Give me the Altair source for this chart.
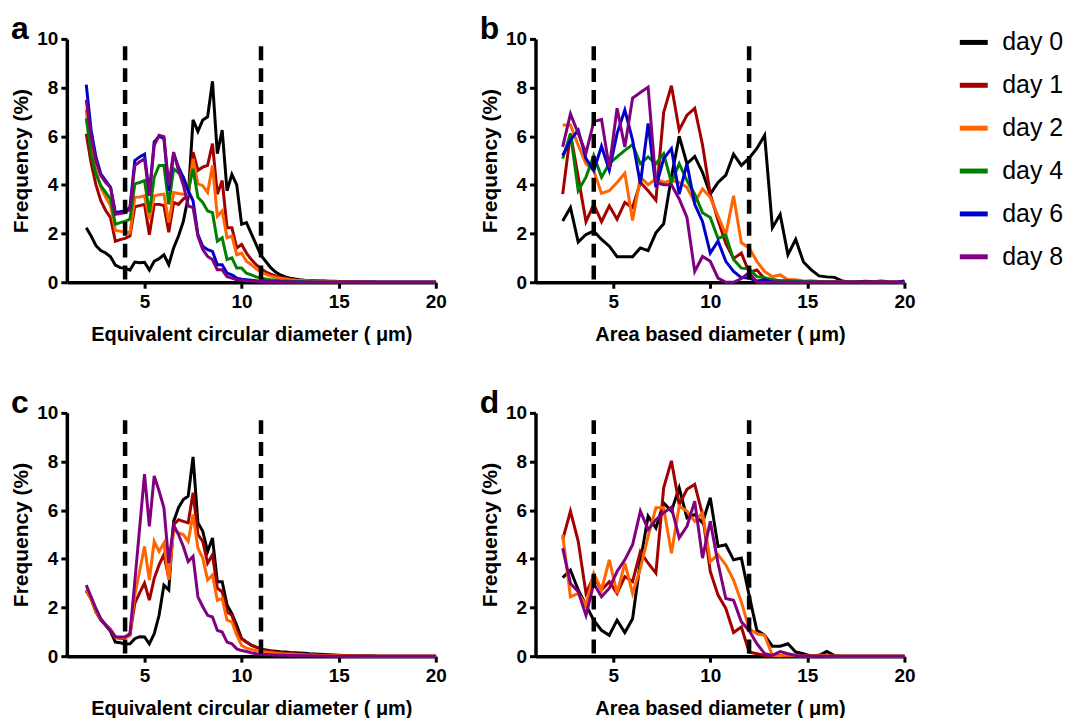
import altair as alt
import pandas as pd

DAYS = ["day 0", "day 1", "day 2", "day 4", "day 6", "day 8"]
COLORS = ["#000000", "#A30000", "#FF6600", "#008000", "#0000CC", "#800080"]

XA = [2.0, 2.25, 2.5, 2.75, 3.0, 3.25, 3.5, 3.75, 4.0, 4.25,
      4.5, 4.75, 5.0, 5.25, 5.5, 5.75, 6.0, 6.25, 6.5, 6.75,
      7.0, 7.25, 7.5, 7.75, 8.0, 8.25, 8.5, 8.75, 9.0, 9.25,
      9.5, 9.75, 10.0, 10.25, 10.5, 10.75, 11.0, 11.25, 11.5, 11.75,
      12.0, 12.25, 12.5, 12.75, 13.0, 13.25, 13.5, 13.75, 14.0, 14.25,
      14.5, 14.75, 15.0, 15.25, 15.5, 15.75, 16.0, 16.25, 16.5, 16.75,
      17.0, 17.25, 17.5, 17.75, 18.0, 18.25, 18.5, 18.75, 19.0, 19.25,
      19.5, 19.75, 20.0]
XB = [2.4, 2.8, 3.2, 3.6, 4.0, 4.4, 4.8, 5.2, 5.6, 6.0,
      6.4, 6.8, 7.2, 7.6, 8.0, 8.4, 8.8, 9.2, 9.6, 10.0,
      10.4, 10.8, 11.2, 11.6, 12.0, 12.4, 12.8, 13.2, 13.6, 14.0,
      14.4, 14.8, 15.2, 15.6, 16.0, 16.4, 16.8, 17.2, 17.6, 18.0,
      18.4, 18.8, 19.2, 19.6, 20.0]
Z13 = [0, 0, 0, 0, 0, 0, 0, 0, 0, 0, 0, 0, 0]

A_D0 = [2.24, 1.9, 1.5, 1.3, 1.2, 1.05, 0.7, 0.6, 0.58, 0.5,
        0.83, 0.8, 0.82, 0.5, 0.86, 0.97, 1.13, 0.72, 1.41, 1.9,
        2.5, 3.5, 6.67, 6.2, 6.67, 6.8, 8.26, 5.28, 6.25, 3.76,
        4.43, 4.0, 2.38, 2.45, 2.0, 1.55, 1.1, 0.85, 0.6, 0.42,
        0.3, 0.22, 0.17, 0.13, 0.1, 0.08, 0.07, 0.06, 0.05, 0.05,
        0.04, 0.04, 0.03, 0.03, 0.02, 0.02, 0.02, 0.01, 0.01, 0.01] + Z13
A_D1 = [6.1, 4.9, 4.0, 3.35, 2.95, 2.65, 1.68, 1.75, 1.8, 1.9,
        3.1, 3.15, 3.2, 1.95, 3.2, 3.2, 3.15, 2.05, 3.28, 3.2,
        3.42, 3.55, 5.35, 4.6, 4.73, 4.8, 5.7, 3.62, 4.18, 2.24,
        2.24, 1.41, 1.55, 1.2, 0.93, 0.72, 0.55, 0.42, 0.33, 0.26,
        0.2, 0.16, 0.13, 0.1, 0.08, 0.07, 0.06, 0.05, 0.04, 0.04,
        0.03, 0.03, 0.02, 0.02, 0.02, 0.01, 0.01, 0.01, 0.01, 0.01] + Z13
A_D2 = [7.1, 5.4, 4.6, 3.9, 3.5, 3.15, 2.13, 2.1, 2.05, 2.03,
        3.49, 3.5, 3.55, 2.59, 3.55, 3.6, 3.62, 2.45, 3.69, 3.65,
        3.62, 3.62, 5.07, 4.04, 3.97, 3.69, 4.8, 2.72, 2.93, 1.83,
        1.9, 1.13, 1.2, 0.86, 0.72, 0.55, 0.42, 0.32, 0.25, 0.2,
        0.16, 0.13, 0.1, 0.08, 0.07, 0.06, 0.05, 0.04, 0.03, 0.03,
        0.02, 0.02, 0.02, 0.01, 0.01, 0.01, 0.01, 0.01, 0, 0] + Z13
A_D4 = [6.74, 5.28, 4.45, 3.97, 3.69, 3.42, 2.38, 2.45, 2.5, 2.59,
        4.04, 4.1, 4.18, 2.86, 4.32, 4.8, 4.8, 3.2, 4.66, 4.5,
        4.32, 3.76, 4.66, 3.49, 3.28, 2.93, 2.86, 1.69, 1.83, 0.93,
        1.0, 0.58, 0.58, 0.37, 0.3, 0.22, 0.17, 0.13, 0.1, 0.08,
        0.06, 0.05, 0.04, 0.03, 0.03, 0.02, 0.02, 0.01, 0.01, 0.01,
        0, 0, 0, 0, 0, 0, 0, 0, 0, 0] + Z13
A_D6 = [8.12, 6.25, 5.15, 4.45, 4.18, 3.9, 2.86, 2.9, 2.93, 3.07,
        5.0, 5.15, 5.26, 3.62, 5.77, 6.0, 5.9, 3.76, 5.28, 4.73,
        4.3, 3.76, 3.35, 1.96, 1.48, 1.34, 1.27, 0.72, 0.72, 0.37,
        0.3, 0.17, 0.12, 0.1, 0.08, 0.06, 0.05, 0.04, 0.03, 0.02,
        0.02, 0.01, 0.01, 0.01, 0, 0, 0, 0, 0, 0,
        0, 0, 0, 0, 0, 0, 0, 0, 0, 0] + Z13
A_D8 = [7.5, 5.98, 5.0, 4.38, 4.1, 3.9, 2.79, 2.82, 2.86, 3.0,
        4.8, 4.95, 5.07, 3.55, 5.63, 6.04, 5.98, 3.97, 5.35, 4.59,
        4.0, 3.14, 3.07, 1.9, 1.34, 1.06, 0.93, 0.51, 0.51, 0.23,
        0.17, 0.1, 0.08, 0.06, 0.05, 0.04, 0.03, 0.02, 0.02, 0.01,
        0.01, 0.01, 0, 0, 0, 0, 0, 0, 0, 0,
        0, 0, 0, 0, 0, 0, 0, 0, 0, 0] + Z13

C_D0 = [2.68, 2.37, 1.82, 1.48, 1.27, 1.02, 0.58, 0.55, 0.5, 0.51,
        0.72, 0.8, 0.79, 0.51, 0.92, 1.68, 2.92, 2.72, 5.54, 6.1,
        6.44, 6.58, 8.19, 5.48, 5.13, 4.3, 4.86, 3.06, 3.06, 2.1,
        1.75, 1.27, 0.72, 0.58, 0.45, 0.37, 0.3, 0.25, 0.22, 0.2,
        0.18, 0.17, 0.15, 0.14, 0.13, 0.12, 0.1, 0.09, 0.08, 0.07,
        0.06, 0.05, 0.04, 0.03, 0.03, 0.02, 0.02, 0.01, 0.01, 0.01] + Z13
C_D1 = [2.72, 2.35, 1.85, 1.5, 1.3, 1.1, 0.79, 0.72, 0.75, 0.86,
        2.17, 2.6, 3.0, 2.3, 3.2, 3.75, 4.17, 3.2, 5.4, 5.61,
        5.54, 5.48, 6.72, 5.0, 4.72, 3.82, 4.17, 2.79, 2.65, 1.82,
        1.68, 1.06, 0.72, 0.58, 0.45, 0.37, 0.3, 0.25, 0.2, 0.17,
        0.15, 0.13, 0.12, 0.1, 0.09, 0.08, 0.07, 0.06, 0.05, 0.04,
        0.04, 0.03, 0.03, 0.02, 0.02, 0.02, 0.01, 0.01, 0.01, 0.01] + Z13
C_D2 = [2.72, 2.35, 1.85, 1.5, 1.3, 1.1, 0.76, 0.74, 0.78, 0.86,
        2.51, 3.5, 4.51, 3.13, 4.72, 4.3, 4.65, 3.13, 5.2, 5.06,
        5.0, 4.72, 5.82, 4.44, 4.03, 3.13, 3.34, 2.3, 2.37, 1.48,
        1.41, 0.86, 0.44, 0.33, 0.28, 0.23, 0.19, 0.16, 0.14, 0.12,
        0.1, 0.09, 0.08, 0.07, 0.06, 0.05, 0.04, 0.04, 0.03, 0.03,
        0.02, 0.02, 0.02, 0.01, 0.01, 0.01, 0.01, 0, 0, 0] + Z13
C_D8 = [2.92, 2.44, 1.96, 1.54, 1.27, 1.06, 0.79, 0.79, 0.8, 0.92,
        3.06, 5.27, 7.48, 5.34, 7.41, 6.79, 6.1, 3.82, 5.4, 5.0,
        4.51, 3.89, 4.1, 2.44, 2.03, 1.68, 1.61, 1.06, 0.99, 0.58,
        0.51, 0.3, 0.23, 0.19, 0.14, 0.1, 0.08, 0.07, 0.06, 0.05,
        0.04, 0.04, 0.03, 0.03, 0.02, 0.02, 0.02, 0.01, 0.01, 0.01,
        0, 0, 0, 0, 0, 0, 0, 0, 0, 0] + Z13

B_D0 = [2.52, 3.07, 1.65, 1.96, 2.1, 1.76, 1.48, 1.05, 1.05, 1.05,
        1.41, 1.3, 2.03, 2.4, 4.32, 6.0, 4.87, 5.17, 4.52, 3.62,
        4.1, 4.4, 5.26, 4.8, 5.1, 5.5, 6.04, 2.24, 2.79, 1.13,
        1.76, 0.83, 0.51, 0.26, 0.22, 0.2, 0.05, 0.0, 0.02, 0.04,
        0.02, 0, 0, 0, 0]
B_D1 = [3.62, 6.11, 4.32, 2.49, 3.2, 2.49, 3.14, 2.59, 3.28, 3.07,
        4.1, 3.76, 3.37, 6.97, 8.08, 6.25, 6.87, 7.15, 5.65, 3.62,
        2.55, 1.6, 0.97, 1.2, 0.4, 0.5, 0.15, 0.1, 0.06, 0.05,
        0.04, 0.03, 0.05, 0.03, 0.02, 0.02, 0.01, 0.02, 0.01, 0.0,
        0.02, 0.05, 0.02, 0, 0]
B_D2 = [6.46, 6.46, 5.63, 4.87, 4.59, 3.65, 3.76, 4.1, 4.48, 2.54,
        4.32, 4.01, 4.25, 4.1, 4.18, 4.1, 3.9, 3.28, 3.83, 3.49,
        2.72, 1.96, 3.55, 1.62, 1.41, 0.86, 0.44, 0.23, 0.3, 0.1,
        0.1, 0.05, 0.03, 0.02, 0.02, 0.01, 0.01, 0, 0, 0,
        0, 0, 0, 0, 0]
B_D4 = [5.08, 6.11, 3.76, 4.32, 5.21, 4.32, 4.87, 5.15, 5.42, 5.66,
        4.87, 5.15, 4.87, 5.28, 4.1, 4.87, 4.18, 3.62, 2.86, 2.66,
        1.8, 1.93, 0.93, 0.58, 0.55, 0.23, 0.19, 0.1, 0.05, 0.07,
        0.05, 0.03, 0.02, 0.01, 0.01, 0, 0, 0, 0, 0,
        0, 0, 0, 0, 0]
B_D6 = [5.21, 5.84, 6.25, 5.08, 4.59, 5.59, 4.6, 6.11, 7.08, 5.84,
        4.04, 6.53, 3.9, 5.08, 5.49, 3.62, 4.87, 3.2, 2.5, 1.2,
        1.69, 0.86, 0.44, 0.19, 0.17, 0.05, 0.1, 0, 0, 0,
        0, 0, 0, 0, 0, 0, 0, 0, 0, 0,
        0, 0, 0, 0, 0.05]
B_D8 = [5.56, 6.92, 6.11, 5.31, 6.6, 6.69, 4.7, 7.15, 5.56, 7.57,
        7.8, 8.02, 4.1, 4.01, 4.01, 3.42, 2.66, 0.44, 1.06, 0.86,
        0.17, 0.0, 0.0, 0.15, 0.4, 0.0, 0, 0, 0, 0,
        0, 0, 0, 0, 0, 0, 0, 0, 0, 0,
        0, 0, 0, 0, 0]

D_D0 = [3.23, 3.54, 2.72, 2.1, 1.48, 1.06, 0.86, 1.48, 0.97, 1.54,
        3.89, 5.75, 5.27, 6.3, 5.96, 6.92, 5.68, 5.82, 5.48, 6.51,
        4.51, 4.58, 3.96, 4.03, 2.51, 1.06, 0.86, 0.41, 0.41, 0.51,
        0.17, 0.1, 0.0, 0.03, 0.19, 0.02, 0.0, 0.0, 0, 0,
        0, 0, 0, 0, 0]
D_D1 = [4.79, 5.96, 4.72, 2.58, 3.27, 2.72, 3.06, 2.58, 3.27, 3.06,
        4.3, 3.82, 3.41, 6.92, 8.03, 6.23, 6.86, 7.06, 5.82, 3.48,
        2.51, 1.96, 0.97, 1.2, 0.17, 0.1, 0.03, 0.02, 0.02, 0.01,
        0, 0, 0, 0, 0, 0, 0, 0, 0, 0,
        0, 0, 0, 0, 0]
D_D2 = [4.99, 2.44, 2.58, 2.1, 3.41, 2.72, 3.96, 2.58, 3.82, 2.58,
        3.61, 4.92, 6.1, 6.1, 4.23, 6.17, 5.96, 5.54, 5.89, 3.89,
        4.17, 3.75, 3.13, 2.23, 1.13, 0.92, 0.86, 0.03, 0.02, 0.05,
        0.03, 0.02, 0.01, 0.05, 0.02, 0.01, 0, 0, 0, 0,
        0, 0, 0, 0, 0]
D_D8 = [4.44, 2.99, 2.65, 1.68, 2.99, 2.44, 2.79, 3.48, 3.96, 4.58,
        5.96, 5.2, 5.61, 5.89, 6.12, 4.86, 5.34, 6.37, 4.03, 5.54,
        3.82, 2.37, 2.3, 1.41, 1.06, 0.51, 0.1, 0.03, 0.19, 0.1,
        0.03, 0.02, 0.01, 0.01, 0, 0, 0, 0, 0, 0,
        0, 0, 0, 0, 0]

GATES_ECD = [4, 11]
GATES_ABD = [4, 12]
GATE_TOP = 9.7

FONT = "Liberation Sans"


def make_df(xs, series):
    rows = []
    for day, ys in series:
        assert len(ys) == len(xs), (day, len(ys), len(xs))
        for x, y in zip(xs, ys):
            rows.append({"x": x, "y": y, "day": day})
    return pd.DataFrame(rows)


def panel(xs, series, gates, xtitle, letter):
    df = make_df(xs, series)
    gdf = pd.DataFrame({"x": gates, "y": [GATE_TOP] * len(gates), "y2": [0] * len(gates)})
    xenc = alt.X("x:Q", title=xtitle,
                 scale=alt.Scale(domain=[1, 20], nice=False, zero=False),
                 axis=alt.Axis(values=[5, 10, 15, 20], labelPadding=4, titlePadding=13,
                               labelFlush=False, titleFontSize=20))
    yenc = alt.Y("y:Q", title="Frequency (%)",
                 scale=alt.Scale(domain=[0, 10], nice=False),
                 axis=alt.Axis(values=[0, 2, 4, 6, 8, 10], labelPadding=3, titlePadding=5,
                               labelFlush=False, titleFontSize=21))
    lines = alt.Chart(df).mark_line(strokeWidth=3, strokeJoin="miter").encode(
        x=xenc, y=yenc,
        color=alt.Color("day:N", scale=alt.Scale(domain=DAYS, range=COLORS),
                        legend=alt.Legend(title=None, orient="none", legendX=893, legendY=-13,
                                          symbolType="stroke", symbolSize=784,
                                          symbolStrokeWidth=5, labelFontSize=25,
                                          labelFont=FONT, labelOffset=12, rowPadding=13,
                                          labelColor="black", padding=0)),
    )
    rules = alt.Chart(gdf).mark_rule(strokeDash=[14, 8], strokeWidth=4.5, color="black").encode(
        x=xenc, y=yenc, y2="y2:Q")
    return alt.layer(lines, rules).properties(
        width=370, height=244,
        title=alt.TitleParams(letter, anchor="start", frame="group", dx=-56, fontSize=32,
                              font=FONT, fontWeight="bold", color="black", offset=-16))


pa = panel(XA, [("day 0", A_D0), ("day 1", A_D1), ("day 2", A_D2), ("day 4", A_D4),
                ("day 6", A_D6), ("day 8", A_D8)], GATES_ECD,
           "Equivalent circular diameter ( \u03bcm)", "a")
pb = panel(XB, [("day 0", B_D0), ("day 1", B_D1), ("day 2", B_D2), ("day 4", B_D4),
                ("day 6", B_D6), ("day 8", B_D8)], GATES_ABD,
           "Area based diameter ( \u03bcm)", "b")
pc = panel(XA, [("day 0", C_D0), ("day 1", C_D1), ("day 2", C_D2), ("day 8", C_D8)],
           GATES_ECD, "Equivalent circular diameter ( \u03bcm)", "c")
pd_ = panel(XB, [("day 0", D_D0), ("day 1", D_D1), ("day 2", D_D2), ("day 8", D_D8)],
            GATES_ABD, "Area based diameter ( \u03bcm)", "d")

chart = alt.concat(pa, pb, pc, pd_, columns=2, spacing={"row": 131, "column": 100},
                   bounds="flush").configure_axis(
    domainColor="black", domainWidth=3.5, tickColor="black", tickWidth=3, tickSize=6,
    labelColor="black", labelFont=FONT, labelFontSize=19, labelFontWeight="bold",
    titleColor="black", titleFont=FONT, titleFontWeight="bold",
    grid=False,
).configure_view(stroke="transparent").properties(
    background="white", padding={"left": 2, "top": 3, "right": 0, "bottom": 0})

chart.save("out.html", embed_options={"renderer": "svg", "actions": False})
